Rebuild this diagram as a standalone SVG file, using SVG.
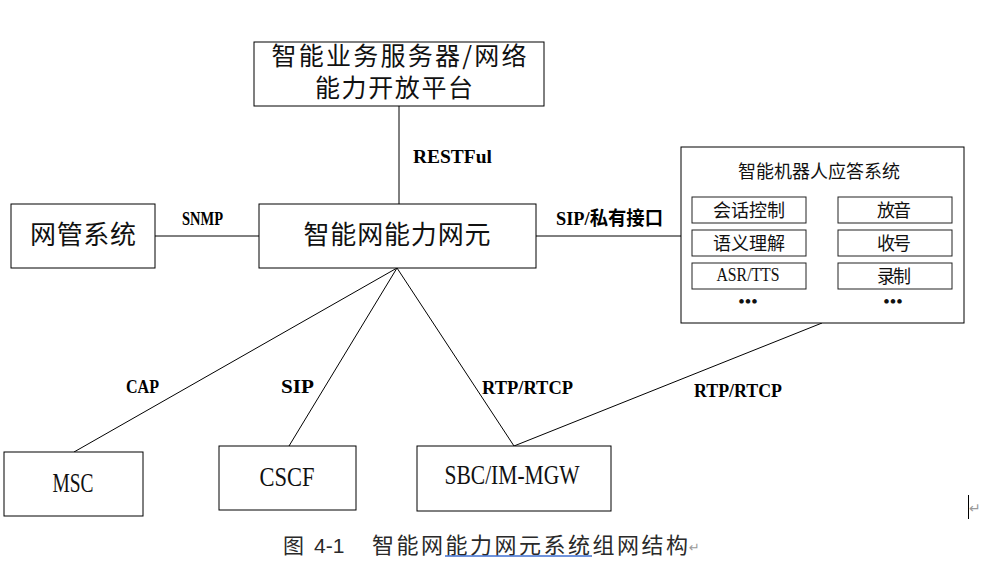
<svg xmlns="http://www.w3.org/2000/svg" width="987" height="569" viewBox="0 0 987 569">
  <style>
    .box { fill: #fff; stroke: #000; stroke-width: 1; }
    .sub { fill: #fff; stroke: #222; stroke-width: 1; }
    .conn { stroke: #000; stroke-width: 1; fill: none; }
    .cn { font-family: "Noto Sans CJK SC", "Liberation Serif", serif; fill: #111; text-anchor: middle; }
    .lat { font-family: "Liberation Serif", "Noto Sans CJK SC", serif; fill: #111; text-anchor: middle; }
    .lbl { font-family: "Liberation Serif", "Noto Sans CJK SC", serif; font-weight: bold; font-size: 19px; fill: #000; }
    .cap { font-family: "Liberation Sans", "Noto Sans CJK SC", sans-serif; fill: #2a2a2a; }
    .mark { font-family: "DejaVu Sans", sans-serif; fill: #9a9a9a; }
  </style>

  <!-- connectors -->
  <g id="connectors">
    <line class="conn" x1="399" y1="106" x2="399" y2="204"/>
    <line class="conn" x1="155" y1="236" x2="259" y2="236"/>
    <line class="conn" x1="536" y1="236" x2="681" y2="236"/>
    <line class="conn" x1="397" y1="268" x2="74" y2="452"/>
    <line class="conn" x1="397" y1="268" x2="289" y2="446"/>
    <line class="conn" x1="397" y1="268" x2="514" y2="446"/>
    <line class="conn" x1="822" y1="323" x2="514" y2="446"/>
    <text class="lbl" x="413" y="163" textLength="79" lengthAdjust="spacingAndGlyphs">RESTFul</text>
    <text class="lbl" x="182" y="225" textLength="41" lengthAdjust="spacingAndGlyphs">SNMP</text>
    <text class="lbl" x="556" y="225" textLength="107" lengthAdjust="spacingAndGlyphs">SIP/私有接口</text>
    <text class="lbl" x="126" y="393" textLength="33" lengthAdjust="spacingAndGlyphs">CAP</text>
    <text class="lbl" x="281" y="393" textLength="33" lengthAdjust="spacingAndGlyphs">SIP</text>
    <text class="lbl" x="482" y="394" textLength="91" lengthAdjust="spacingAndGlyphs">RTP/RTCP</text>
    <text class="lbl" x="694" y="397" textLength="88" lengthAdjust="spacingAndGlyphs">RTP/RTCP</text>
  </g>

  <!-- service platform -->
  <g id="platform">
    <rect class="box" x="254" y="42" width="290" height="64"/>
    <text class="cn" x="399" y="65" font-size="25" textLength="255">智能业务服务器/网络</text>
    <text class="cn" x="394" y="97" font-size="25" textLength="158">能力开放平台</text>
  </g>

  <!-- network capability element -->
  <g id="ne">
    <rect class="box" x="259" y="204" width="277" height="64"/>
    <text class="cn" x="397" y="244" font-size="26" textLength="187">智能网能力网元</text>
  </g>

  <!-- network management -->
  <g id="nms">
    <rect class="box" x="11" y="204" width="144" height="64"/>
    <text class="cn" x="83" y="244" font-size="26" textLength="106">网管系统</text>
  </g>

  <!-- intelligent robot answering system -->
  <g id="robot">
    <rect class="box" x="681" y="147" width="283" height="176"/>
    <text class="cn" x="819" y="178" font-size="18" textLength="162">智能机器人应答系统</text>
    <rect class="sub" x="692" y="197" width="114" height="26"/>
    <rect class="sub" x="692" y="230" width="114" height="26"/>
    <rect class="sub" x="692" y="263" width="114" height="26"/>
    <rect class="sub" x="838" y="197" width="114" height="26"/>
    <rect class="sub" x="838" y="230" width="114" height="26"/>
    <rect class="sub" x="838" y="263" width="114" height="26"/>
    <text class="cn" x="749" y="217" font-size="18" textLength="72">会话控制</text>
    <text class="cn" x="749" y="250" font-size="18" textLength="72">语义理解</text>
    <text class="lat" x="748" y="281" font-size="18" textLength="63" lengthAdjust="spacingAndGlyphs">ASR/TTS</text>
    <text class="cn" x="894" y="217" font-size="18" textLength="34">放音</text>
    <text class="cn" x="894" y="250" font-size="18" textLength="34">收号</text>
    <text class="cn" x="894" y="283" font-size="18" textLength="34">录制</text>
    <text class="lat" x="748" y="307" font-size="17" font-weight="bold" textLength="19">•••</text>
    <text class="lat" x="893" y="307" font-size="17" font-weight="bold" textLength="19">•••</text>
  </g>

  <!-- MSC -->
  <g id="msc">
    <rect class="box" x="4" y="452" width="139" height="64"/>
    <text class="lat" x="73" y="492" font-size="28" textLength="41" lengthAdjust="spacingAndGlyphs">MSC</text>
  </g>

  <!-- CSCF -->
  <g id="cscf">
    <rect class="box" x="219" y="446" width="137" height="64"/>
    <text class="lat" x="287" y="486" font-size="28" textLength="55" lengthAdjust="spacingAndGlyphs">CSCF</text>
  </g>

  <!-- SBC / IM-MGW -->
  <g id="sbc">
    <rect class="box" x="417" y="446" width="194" height="65"/>
    <text class="lat" x="512" y="484" font-size="28" textLength="135" lengthAdjust="spacingAndGlyphs">SBC/IM-MGW</text>
  </g>

  <!-- edit marks at the right margin -->
  <line x1="968.5" y1="495" x2="968.5" y2="519" stroke="#000" stroke-width="1"/>
  <text class="mark" x="969" y="513" font-size="14">↵</text>

  <!-- figure caption -->
  <g id="caption">
    <text class="cap" x="283" y="553" font-size="21">图</text>
    <text class="cap" x="314" y="553" font-size="21">4-1</text>
    <text class="cap" x="372" y="553" font-size="22" textLength="316">智能网能力网元系统组网结构</text>
    <line x1="445" y1="556" x2="592" y2="556" stroke="#3f6fd1" stroke-width="1.3"/>
    <text class="mark" x="689" y="552" font-size="13">↵</text>
  </g>
</svg>
